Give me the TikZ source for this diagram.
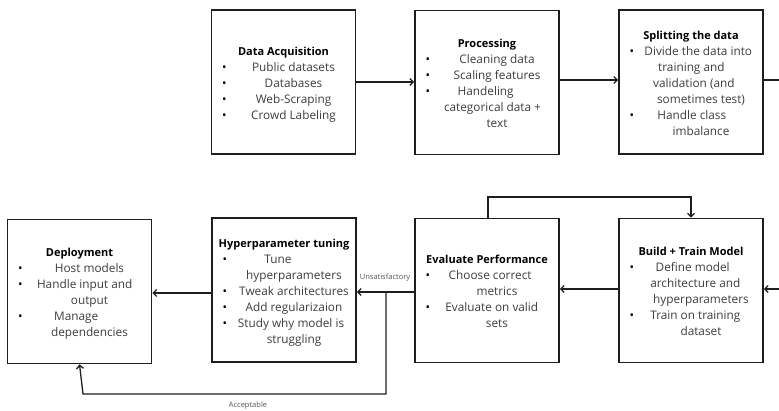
\documentclass[tikz,border=0pt]{standalone}
\usepackage{fontspec}
\setmainfont{Open Sans}
\usepackage{array}
\usetikzlibrary{arrows.meta}

\definecolor{inkline}{HTML}{1E1E1E}
\definecolor{itemtext}{HTML}{3C3C3C}
\definecolor{labeltext}{HTML}{555555}

% bullet cell of a stage list
\newcommand{\bul}{\hspace*{10.5pt}{\color{black}\textbullet} &}
% stage box body: bold title over a bulleted, centred list
\newcommand{\stagebody}[2]{%
  \begin{tabular}{@{}p{20pt}@{}>{\centering\arraybackslash}p{124pt}@{}}
    \noalign{\vskip4pt}
    \multicolumn{2}{@{}c@{}}{\color{black}\fontsize{11}{16}\selectfont\bfseries #1}\\
    #2
  \end{tabular}}

\tikzset{
  stage/.style={draw=inkline, line width=1.6pt, minimum width=144pt,
    minimum height=144pt, inner sep=0pt, text=itemtext,
    font=\fontsize{11.8}{16}\selectfont},
  flow/.style={draw=inkline, line width=1.3pt,
    -{Straight Barb[length=3.5pt,width=7pt,line width=1.3pt]}},
  plainflow/.style={draw=inkline, line width=1.3pt},
  edgelabel/.style={text=labeltext, font=\fontsize{7.5}{8}\selectfont, inner sep=1pt}
}

\begin{document}
\begin{tikzpicture}[x=1pt,y=-1pt]
  \useasboundingbox (0,0) rectangle (779,411);

  % top row
  \node[stage] (acq) at (283.5,82) {\stagebody{Data Acquisition}{%
    \bul Public datasets\\
    \bul Databases\\
    \bul Web-Scraping\\
    \bul Crowd Labeling\\}};
  \node[stage] (proc) at (487,82.5) {\stagebody{Processing}{%
    \bul Cleaning data\\
    \bul Scaling features\\
    \bul Handeling\newline categorical data +\newline text\\}};
  \node[stage] (split) at (691,82) {\stagebody{Splitting the data}{%
    \bul Divide the data into\newline training and\newline validation (and\newline sometimes test)\\
    \bul Handle class\newline imbalance\\}};

  % bottom row
  \node[stage] (deploy) at (79.5,291.5) {\stagebody{Deployment}{%
    \bul Host models\\
    \bul Handle input and\newline output\\
    \bul Manage\newline dependencies\\}};
  \node[stage] (tune) at (284,290) {\stagebody{Hyperparameter tuning}{%
    \bul Tune\newline hyperparameters\\
    \bul Tweak architectures\\
    \bul Add regularizaion\\
    \bul Study why model is\newline struggling\\}};
  \node[stage] (eval) at (487,290.5) {\stagebody{Evaluate Performance}{%
    \bul Choose correct\newline metrics\\
    \bul Evaluate on valid\newline sets\\}};
  \node[stage] (build) at (691,290.5) {\stagebody{Build + Train Model}{%
    \bul Define model\newline architecture and\newline hyperparameters\\
    \bul Train on training\newline dataset\\}};

  % wrap-around ends at the right margin
  \coordinate (outR) at (779,80);
  \coordinate (inR) at (779,289);
  % split point of the evaluation outcome
  \coordinate (fork) at (386,292);
  \coordinate (forkdown) at (386,394);
  \coordinate (forkleft) at (83,394);
  \coordinate (loopup) at (488,197);

  % top row flow
  \draw[flow] (acq.east |- 0,82) -- (proc.west |- 0,82);
  \draw[flow] (proc.east |- 0,80) -- (split.west |- 0,80);
  \draw[plainflow] (split.east |- outR) -- (outR);

  % bottom row flow
  \draw[flow] (inR) -- (build.east |- inR);
  \draw[flow] (build.west |- 0,289) -- (eval.east |- 0,289);
  \draw[flow] (eval.west |- fork) -- (tune.east |- fork);
  \draw[flow] (tune.west |- 0,293) -- (deploy.east |- 0,293);

  % acceptable branch to deployment
  \draw[flow] (fork) -- (forkdown) -- (forkleft) -- (deploy.south);

  % retrain loop from evaluation back to build
  \draw[flow] (eval.north -| loopup) -- (loopup) -| (build.north);

  % labels
  \node[edgelabel] (unsat) at (385,278) {Unsatisfactory};
  \node[edgelabel] (accept) at (248,406) {Acceptable};
\end{tikzpicture}
\end{document}
